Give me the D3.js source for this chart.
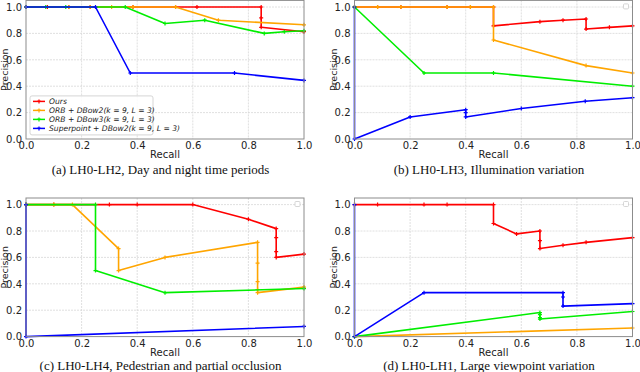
<!DOCTYPE html>
<html>
<head>
<meta charset="utf-8">
<script src="https://cdn.jsdelivr.net/npm/d3@7"></script>
<style>
  body { margin: 0; background: #fff; }
  svg text { font-family: "DejaVu Sans", sans-serif; fill: #222; }
  .caption { font-family: "Liberation Serif", "Times New Roman", serif; font-size: 13px; fill: #111; }
</style>
</head>
<body>
<svg id="chart" width="640" height="372"></svg>
<script>
// series order: Ours, ORB+DBow2, ORB+DBow3, Superpoint+DBow2
const seriesNames = ['Ours', 'ORB + DBow2(k = 9, L = 3)', 'ORB + DBow3(k = 9, L = 3)', 'Superpoint + DBow2(k = 9, L = 3)'];
const seriesColors = ['#ff0000', '#ffa500', '#00ee00', '#0000ff'];
const ticks = [0, 0.2, 0.4, 0.6, 0.8, 1.0];

// (a) LH0-LH2
const oursA = [[0,1],[0.077,1],[0.154,1],[0.231,1],[0.385,1],[0.538,1],[0.615,1],[0.846,1],[0.846,0.917],[0.846,0.846],[1,0.813]];
const orb2A = [[0,1],[0.154,1],[0.231,1],[0.308,1],[0.385,1],[0.538,1],[0.692,0.9],[1,0.865]];
const orb3A = [[0,1],[0.071,1],[0.143,1],[0.357,1],[0.5,0.875],[0.643,0.9],[0.857,0.8],[0.929,0.813],[1,0.82]];
const spA = [[0,1],[0.25,1],[0.375,0.5],[0.75,0.5],[1,0.444]];

// (b) LH0-LH3
const oursB = [[0,1],[0.083,1],[0.167,1],[0.333,1],[0.417,1],[0.5,1],[0.5,0.857],[0.667,0.889],[0.75,0.9],[0.833,0.909],[0.833,0.833],[0.917,0.846],[1,0.857]];
const orb2B = [[0,1],[0.083,1],[0.167,1],[0.333,1],[0.417,1],[0.5,1],[0.5,0.75],[0.833,0.556],[1,0.5]];
const orb3B = [[0,1],[0.25,0.5],[0.5,0.5],[1,0.4]];
const spB = [[0,1],[0,0],[0.2,0.167],[0.4,0.222],[0.4,0.2],[0.4,0.167],[0.6,0.231],[0.83,0.286],[1,0.313]];

// (c) LH0-LH4
const oursC = [[0,1],[0.1,1],[0.3,1],[0.4,1],[0.6,1],[0.8,0.889],[0.9,0.818],[0.9,0.75],[0.9,0.643],[0.9,0.6],[1,0.625]];
const orb2C = [[0,1],[0.1,1],[0.167,1],[0.333,0.667],[0.333,0.5],[0.5,0.6],[0.833,0.714],[0.833,0.556],[0.833,0.417],[0.833,0.357],[0.833,0.333],[1,0.375]];
const orb3C = [[0,1],[0.25,1],[0.25,0.5],[0.5,0.333],[1,0.364]];
const spC = [[0,1],[0,0],[1,0.077]];

// (d) LH0-LH1
const oursD = [[0,1],[0.083,1],[0.25,1],[0.333,1],[0.5,1],[0.5,0.857],[0.583,0.778],[0.667,0.8],[0.667,0.727],[0.667,0.667],[0.75,0.692],[0.833,0.714],[1,0.75]];
const orb2D = [[0,0],[1,0.065]];
const orb3D = [[0,0],[0.667,0.182],[0.667,0.167],[0.667,0.143],[0.667,0.133],[1,0.19]];
const spD = [[0,1],[0,0],[0.25,0.333],[0.75,0.333],[0.75,0.3],[0.75,0.231],[1,0.25]];

const panels = [
  { left: 26, top: 0.4, series: [oursA, orb2A, orb3A, spA], legend: true, caption: '(a) LH0-LH2, Day and night time periods' },
  { left: 354.5, top: 0.4, series: [oursB, orb2B, orb3B, spB], legend: false, caption: '(b) LH0-LH3, Illumination variation' },
  { left: 26, top: 198, series: [oursC, orb2C, orb3C, spC], legend: false, caption: '(c) LH0-LH4, Pedestrian and partial occlusion' },
  { left: 354.5, top: 198, series: [oursD, orb2D, orb3D, spD], legend: false, caption: '(d) LH0-LH1, Large viewpoint variation' }
];

const W = 278, H = 138.6;
const svg = d3.select('#chart');

panels.forEach((p) => {
  const g = svg.append('g').attr('transform', `translate(${p.left},${p.top})`);
  const x = d3.scaleLinear().domain([0, 1]).range([0, W]);
  const y = d3.scaleLinear().domain([0, 1.05]).range([H, 0]);

  // grid
  g.append('g').selectAll('line').data(ticks.slice(1, 5)).join('line')
    .attr('x1', d => x(d)).attr('x2', d => x(d)).attr('y1', 0).attr('y2', H)
    .attr('stroke', '#d8d8d8').attr('stroke-width', 0.8).attr('stroke-dasharray', '2,1');
  g.append('g').selectAll('line').data(ticks.slice(1)).join('line')
    .attr('x1', 0).attr('x2', W).attr('y1', d => y(d)).attr('y2', d => y(d))
    .attr('stroke', '#d8d8d8').attr('stroke-width', 0.8).attr('stroke-dasharray', '2,1');

  // axes
  const xAxis = g.append('g').attr('transform', `translate(0,${H})`)
    .call(d3.axisBottom(x).tickValues(ticks).tickFormat(d3.format('.1f')).tickSize(0).tickPadding(3));
  const yAxis = g.append('g')
    .call(d3.axisLeft(y).tickValues(ticks).tickFormat(d3.format('.1f')).tickSize(0).tickPadding(4));
  [xAxis, yAxis].forEach(a => {
    a.select('.domain').remove();
    a.selectAll('text').attr('font-size', 10).attr('fill', '#222').attr('font-family', '"DejaVu Sans", sans-serif');
  });

  // lines, drawn in series order so blue ends on top
  const line = d3.line().x(d => x(d[0])).y(d => y(d[1]));
  p.series.forEach((s, i) => {
    g.append('path').datum(s).attr('d', line).attr('fill', 'none')
      .attr('stroke', seriesColors[i]).attr('stroke-width', 1.6).attr('stroke-linejoin', 'round');
    g.append('g').selectAll('path').data(s).join('path')
      .attr('transform', d => `translate(${x(d[0])},${y(d[1])})`)
      .attr('d', 'M-2,0H2M0,-2V2').attr('stroke', seriesColors[i]).attr('stroke-width', 1.2);
  });

  // frame
  g.append('rect').attr('width', W).attr('height', H).attr('fill', 'none')
    .attr('stroke', '#8c8c8c').attr('stroke-width', 1);

  // axis titles
  g.append('text').attr('x', W / 2).attr('y', H + 19).attr('text-anchor', 'middle')
    .attr('font-size', 10).text('Recall');
  g.append('text').attr('transform', `translate(-18,${H / 2}) rotate(-90)`).attr('text-anchor', 'middle')
    .attr('font-size', 9.5).text('Precision');

  // caption
  const capY = p.top > 100 ? H + 33 : H + 35;
  g.append('text').attr('class', 'caption').attr('x', W / 2 - 4.5).attr('y', capY)
    .attr('text-anchor', 'middle').text(p.caption);

  if (p.legend) {
    const lg = g.append('g').attr('transform', 'translate(4,95.5)');
    lg.append('rect').attr('width', 123).attr('height', 39).attr('rx', 2)
      .attr('fill', '#fff').attr('fill-opacity', 0.85).attr('stroke', '#ccc').attr('stroke-width', 0.8);
    seriesNames.forEach((name, i) => {
      const yy = 5.5 + i * 9;
      lg.append('line').attr('x1', 3).attr('x2', 15).attr('y1', yy).attr('y2', yy)
        .attr('stroke', seriesColors[i]).attr('stroke-width', 1.5);
      lg.append('path').attr('transform', `translate(9,${yy})`).attr('d', 'M-2,0H2M0,-2V2')
        .attr('stroke', seriesColors[i]).attr('stroke-width', 1.2);
      lg.append('text').attr('x', 19).attr('y', yy + 2.7).attr('font-size', 7.6)
        .attr('font-style', 'italic').text(name);
    });
  } else {
    // empty legend placeholder in the corner
    g.append('rect').attr('x', W - 9).attr('y', 3.5).attr('width', 5).attr('height', 5).attr('rx', 1)
      .attr('fill', '#fff').attr('stroke', '#ccc').attr('stroke-width', 0.8);
  }
});
</script>
</body>
</html>
